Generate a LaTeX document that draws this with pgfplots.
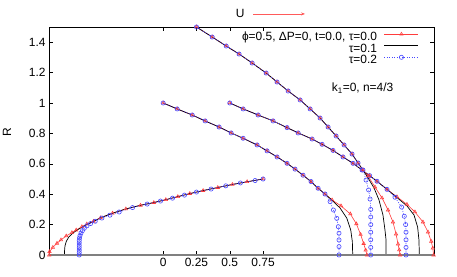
\documentclass[border=0pt]{standalone}
\usepackage{pgfplots}
\pgfplotsset{compat=1.18}
\usepackage{fontspec}
\setmainfont{Liberation Sans}
\usetikzlibrary{arrows.meta}
\definecolor{cRed}{RGB}{255,60,60}
\definecolor{cBlue}{RGB}{70,70,255}
\definecolor{cArrow}{RGB}{255,90,90}
\begin{document}
\begin{tikzpicture}[font=\fontsize{12}{14}\selectfont]
\begin{axis}[
  scale only axis, width=385bp, height=228bp,
  xmin=-0.857, xmax=2.033, ymin=0, ymax=1.5,
  clip=false,
  xtick={0,0.25,0.5,0.75}, xticklabels={0,0.25,0.5,0.75},
  ytick={0,0.2,0.4,0.6,0.8,1,1.2,1.4},
  yticklabels={0,0.2,0.4,0.6,0.8,1,1.2,1.4},
  tick align=inside, major tick length=4bp,
  tick style={black, line width=0.5bp},
  axis line style={line width=0.7bp},
  legend style={draw=none, fill=none, at={(rel axis cs:0.961,0.978)}, anchor=north east,
     inner sep=0pt, row sep=1.5bp, column sep=7bp,
     nodes={inner sep=0bp, text height=8.5bp, text depth=1.5bp},
     font=\fontsize{12}{14}\selectfont},
  legend cell align=right, legend plot pos=right,
  legend image code/.code={\draw[mark repeat=2,mark phase=2,#1] plot coordinates {(0bp,3bp) (17bp,3bp) (34bp,3bp)};},
  redst/.style={color=cRed, line width=0.6bp, mark=triangle, mark size=1.9bp, mark options={solid, line width=0.6bp}},
  blkst/.style={color=black, line width=0.7bp, mark=none},
  bluest/.style={color=cBlue, line width=0.6bp, dash pattern=on 1bp off 1.5bp, mark=o, mark size=2.1bp, mark options={solid, line width=0.6bp}},
]
% ---------- C0 (bottom-left curve) ----------
\addplot[redst] coordinates {(-0.855,0) (-0.853,0.022) (-0.828,0.05) (-0.797,0.077) (-0.767,0.099) (-0.728,0.125) (-0.685,0.147) (-0.653,0.164) (-0.61,0.186) (-0.573,0.204) (-0.523,0.222) (-0.47,0.245) (-0.38,0.275) (-0.28,0.303) (-0.17,0.327) (-0.07,0.345) (0.02,0.364) (0.11,0.384) (0.2,0.404) (0.3,0.424) (0.41,0.444) (0.52,0.464) (0.63,0.482) (0.75,0.5)};
\addlegendentry{ϕ=0.5, ΔP=0, t=0.0, τ=0.0}
\addplot[blkst] coordinates {(-0.74,0) (-0.74,0.03) (-0.737,0.06) (-0.727,0.09) (-0.707,0.12) (-0.677,0.145) (-0.635,0.17) (-0.585,0.195) (-0.525,0.22) (-0.47,0.245) (-0.38,0.275) (-0.28,0.303) (-0.17,0.327) (-0.07,0.345) (0.02,0.364) (0.11,0.384) (0.2,0.404) (0.3,0.424) (0.41,0.444) (0.52,0.464) (0.63,0.482) (0.75,0.5)};
\addlegendentry{τ=0.1}
\addplot[bluest] coordinates {(-0.63,0) (-0.63,0.016) (-0.63,0.032) (-0.63,0.048) (-0.63,0.064) (-0.63,0.08) (-0.63,0.096) (-0.628,0.112) (-0.624,0.128) (-0.617,0.144) (-0.606,0.16) (-0.592,0.176) (-0.572,0.192) (-0.545,0.207) (-0.51,0.222) (-0.46,0.243) (-0.4,0.262) (-0.33,0.283) (-0.23,0.312) (-0.12,0.335) (-0.02,0.355) (0.07,0.374) (0.16,0.394) (0.25,0.414) (0.36,0.434) (0.47,0.455) (0.58,0.474) (0.69,0.49) (0.75,0.5)};
\addlegendentry{τ=0.2}
% ---------- C1 (from (0,1)) ----------
\addplot[redst, forget plot] coordinates {(0,1.0) (0.105,0.961) (0.218,0.921) (0.315,0.882) (0.42,0.842) (0.51,0.803) (0.60,0.768) (0.705,0.724) (0.78,0.685) (0.855,0.645) (0.93,0.603) (0.99,0.565) (1.05,0.525) (1.11,0.483) (1.163,0.439) (1.215,0.401) (1.268,0.362) (1.335,0.323) (1.405,0.27) (1.45,0.205) (1.482,0.135) (1.505,0.075) (1.52,0.032) (1.53,0)};
\addplot[blkst, forget plot] coordinates {(0,1.0) (0.105,0.961) (0.218,0.921) (0.315,0.882) (0.42,0.842) (0.51,0.803) (0.60,0.768) (0.705,0.724) (0.78,0.685) (0.855,0.645) (0.93,0.603) (0.99,0.565) (1.05,0.525) (1.11,0.483) (1.163,0.439) (1.215,0.401) (1.268,0.36) (1.328,0.309) (1.378,0.243) (1.408,0.164) (1.42,0.088) (1.423,0)};
\addplot[bluest, forget plot] coordinates {(0,1.0) (0.105,0.961) (0.218,0.921) (0.315,0.882) (0.42,0.842) (0.51,0.803) (0.60,0.768) (0.705,0.724) (0.78,0.685) (0.855,0.645) (0.93,0.603) (0.99,0.565) (1.05,0.525) (1.11,0.483) (1.163,0.439) (1.215,0.401) (1.253,0.351) (1.278,0.296) (1.303,0.241) (1.315,0.186) (1.32,0.143) (1.32,0.099) (1.32,0.055) (1.32,0)};
% ---------- C2 (from (0.5,1)) ----------
\addplot[redst, forget plot] coordinates {(0.5,1.0) (0.6,0.961) (0.713,0.921) (0.825,0.882) (0.93,0.838) (1.013,0.803) (1.118,0.763) (1.193,0.728) (1.275,0.688) (1.35,0.645) (1.425,0.603) (1.493,0.559) (1.55,0.522) (1.605,0.485) (1.68,0.432) (1.755,0.383) (1.83,0.333) (1.89,0.283) (1.95,0.217) (1.988,0.151) (2.012,0.09) (2.024,0.045) (2.03,0)};
\addplot[blkst, forget plot] coordinates {(0.5,1.0) (0.6,0.961) (0.713,0.921) (0.825,0.882) (0.93,0.838) (1.013,0.803) (1.118,0.763) (1.193,0.728) (1.275,0.688) (1.35,0.645) (1.425,0.603) (1.493,0.559) (1.55,0.522) (1.605,0.485) (1.68,0.432) (1.755,0.378) (1.83,0.323) (1.883,0.263) (1.91,0.184) (1.92,0.099) (1.923,0)};
\addplot[bluest, forget plot] coordinates {(0.5,1.0) (0.6,0.961) (0.713,0.921) (0.825,0.882) (0.93,0.838) (1.013,0.803) (1.118,0.763) (1.193,0.728) (1.275,0.688) (1.35,0.645) (1.425,0.603) (1.493,0.559) (1.55,0.522) (1.605,0.485) (1.68,0.432) (1.74,0.38) (1.79,0.315) (1.81,0.255) (1.82,0.2) (1.823,0.15) (1.823,0.1) (1.823,0.05) (1.823,0)};
% ---------- C3 (from (0.25,1.5)) ----------
\addplot[redst, forget plot] coordinates {(0.25,1.5) (0.368,1.434) (0.473,1.375) (0.57,1.322) (0.668,1.263) (0.773,1.197) (0.855,1.138) (0.938,1.079) (1.028,1.02) (1.103,0.961) (1.178,0.901) (1.238,0.842) (1.298,0.783) (1.358,0.724) (1.418,0.664) (1.463,0.605) (1.5,0.559) (1.538,0.52) (1.59,0.447) (1.643,0.375) (1.688,0.296) (1.725,0.217) (1.748,0.138) (1.763,0.072) (1.772,0.033) (1.778,0)};
\addplot[blkst, forget plot] coordinates {(0.25,1.5) (0.368,1.434) (0.473,1.375) (0.57,1.322) (0.668,1.263) (0.773,1.197) (0.855,1.138) (0.938,1.079) (1.028,1.02) (1.103,0.961) (1.178,0.901) (1.238,0.842) (1.298,0.783) (1.358,0.724) (1.418,0.664) (1.463,0.605) (1.5,0.559) (1.538,0.507) (1.583,0.441) (1.62,0.362) (1.65,0.263) (1.665,0.164) (1.673,0.099) (1.673,0)};
\addplot[bluest, forget plot] coordinates {(0.25,1.5) (0.368,1.434) (0.473,1.375) (0.57,1.322) (0.668,1.263) (0.773,1.197) (0.855,1.138) (0.938,1.079) (1.028,1.02) (1.103,0.961) (1.178,0.901) (1.238,0.842) (1.298,0.783) (1.358,0.724) (1.418,0.664) (1.463,0.605) (1.5,0.559) (1.523,0.493) (1.542,0.428) (1.553,0.368) (1.558,0.3) (1.558,0.25) (1.558,0.2) (1.558,0.15) (1.558,0.1) (1.558,0.05) (1.558,0)};
% bottom gray line
\addplot[gray, line width=1.4bp, forget plot] coordinates {(-0.857,0) (2.033,0)};
% annotations
\node[anchor=center] at (axis cs:1.497,1.1) {k\textsubscript{1}=0, n=4/3};
\node[anchor=center] at (axis cs:0.578,1.586) {U};
\draw[-{Stealth[length=4bp,width=3bp]}, cArrow, line width=0.6bp] (axis cs:0.675,1.586) -- (axis cs:1.065,1.586);
\node[rotate=90, anchor=center] at (axis cs:-1.172,0.81) {R};
\end{axis}
\pgfresetboundingbox
\path[use as bounding box] (-49bp,-22bp) rectangle (408bp,255bp);
\end{tikzpicture}
\end{document}
